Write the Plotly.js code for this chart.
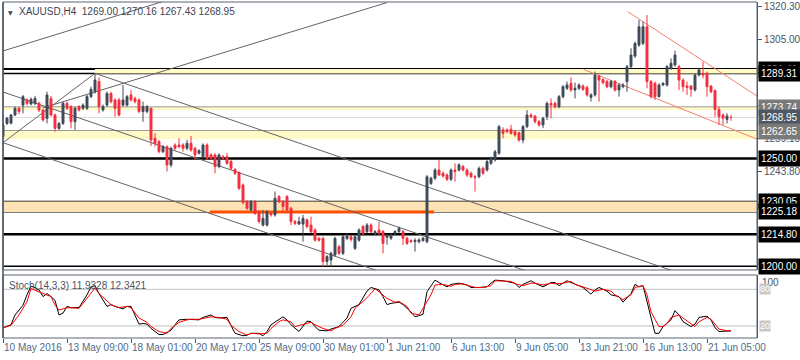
<!DOCTYPE html>
<html>
<head>
<meta charset="utf-8">
<script src="https://cdn.plot.ly/plotly-3.0.1.min.js"></script>
<style>html,body{margin:0;padding:0;background:#fff}#chart{width:800px;height:360px}</style>
</head>
<body>
<div id="chart"></div>
<script>
// ---------------- DATA ----------------
const symbolTitle = "XAUUSD,H4";
const lastQuote = ["1269.00", "1270.16", "1267.43", "1268.95"];
const stochTitle = "Stoch(14,3,3) 11.9328 12.3421";

const openP = [
1260.1,1266.2,1266.3,1270.1,1273.2,1274.7,1277.1,1275.2,1275.3,1275.5,
1272.4,1268.6,1277.8,1270.1,1263.9,1266.2,1275.5,1274.0,1267.0,1274.0,
1273.2,1273.2,1278.6,1280.9,1285.6,1272.4,1274.7,1280.1,1277.1,1277.1,
1274.7,1274.7,1279.4,1277.8,1277.1,1271.7,1271.7,1273.2,1259.3,1257.8,
1253.1,1255.4,1246.9,1256.2,1256.2,1256.2,1254.7,1257.0,1254.7,1252.4,
1250.8,1256.2,1251.6,1251.6,1246.2,1250.8,1250.8,1248.5,1244.9,1243.4,
1237.7,1229.9,1226.1,1229.9,1225.3,1219.1,1219.1,1224.5,1223.8,1232.3,
1229.9,1232.3,1226.9,1220.7,1219.6,1219.6,1221.5,1219.1,1216.8,1212.9,
1212.9,1202.2,1202.9,1205.2,1209.1,1206.0,1212.9,1213.7,1208.3,1212.1,
1218.4,1216.0,1219.1,1215.0,1216.8,1216.1,1213.4,1213.0,1215.3,1216.1,
1216.1,1213.0,1211.9,1211.4,1211.4,1211.9,1211.4,1238.4,1240.8,1244.6,
1243.1,1242.3,1240.3,1244.6,1244.6,1246.2,1244.6,1243.1,1241.5,1241.5,
1245.4,1244.6,1247.7,1249.3,1252.4,1263.2,1263.2,1263.5,1262.4,1261.9,
1258.5,1264.7,1270.1,1269.6,1267.0,1265.5,1269.3,1275.5,1275.5,1274.0,
1278.6,1282.5,1284.8,1281.7,1282.5,1283.5,1282.9,1278.3,1279.4,1288.2,
1286.6,1285.6,1283.2,1285.6,1281.7,1283.2,1285.6,1292.5,1297.4,1302.5,
1303.3,1311.0,1285.6,1284.8,1278.6,1284.0,1284.0,1291.7,1293.3,1292.5,
1286.3,1283.5,1283.5,1281.7,1288.6,1289.4,1289.4,1283.5,1281.4,1272.7,
1270.1,1268.1,1269.00];
const highP = [
1266.5,1269.2,1270.6,1274.0,1273.8,1279.4,1277.8,1278.2,1279.0,1276.3,
1273.0,1280.9,1279.0,1270.8,1266.9,1276.3,1276.3,1274.7,1274.0,1274.7,
1275.5,1279.4,1283.2,1289.4,1287.5,1275.0,1281.0,1280.9,1277.8,1278.0,
1284.0,1279.4,1281.7,1278.6,1277.8,1276.3,1274.7,1273.5,1261.6,1258.5,
1256.2,1256.0,1255.4,1257.0,1259.3,1257.0,1258.5,1260.4,1255.4,1254.2,
1257.0,1257.0,1252.4,1252.4,1252.4,1251.6,1252.4,1249.3,1245.4,1244.0,
1238.4,1230.7,1230.7,1230.7,1226.1,1226.1,1226.1,1225.3,1234.6,1233.0,
1230.7,1233.0,1227.6,1221.5,1223.0,1223.8,1222.2,1223.0,1217.6,1213.7,
1213.7,1205.2,1206.8,1213.7,1209.9,1214.4,1215.3,1214.4,1214.4,1217.6,
1219.1,1220.0,1219.9,1216.8,1220.7,1216.8,1215.0,1215.3,1216.8,1218.4,
1216.8,1213.7,1212.5,1213.0,1213.0,1213.7,1242.3,1241.5,1245.4,1249.3,
1243.9,1243.1,1245.4,1247.7,1247.7,1247.0,1245.4,1243.9,1242.3,1246.2,
1246.2,1249.3,1250.8,1253.9,1265.5,1264.4,1263.9,1265.5,1263.2,1262.4,
1265.5,1272.4,1270.9,1270.1,1267.8,1269.3,1276.3,1277.8,1276.3,1279.4,
1284.0,1285.6,1287.6,1285.1,1284.8,1284.3,1283.7,1280.2,1290.2,1288.6,
1287.1,1286.3,1286.3,1286.3,1284.8,1284.8,1293.3,1301.0,1304.1,1314.1,
1313.4,1316.4,1286.3,1285.6,1284.8,1285.3,1293.3,1296.4,1299.9,1293.3,
1287.1,1285.6,1284.0,1289.4,1291.7,1294.8,1290.2,1284.0,1282.0,1274.0,
1270.9,1270.9,1270.16];
const lowP = [
1259.5,1265.5,1265.8,1269.6,1270.5,1270.9,1274.5,1274.6,1274.8,1271.5,
1267.0,1266.2,1269.5,1262.4,1263.2,1265.5,1272.4,1263.9,1263.2,1271.7,
1272.4,1272.4,1278.0,1280.0,1270.9,1271.7,1274.0,1275.5,1269.3,1269.5,
1274.0,1274.0,1276.3,1275.5,1270.9,1267.0,1270.9,1255.7,1255.4,1252.4,
1252.4,1243.9,1245.9,1253.9,1254.7,1253.1,1253.9,1253.1,1249.3,1251.8,
1250.0,1249.3,1249.3,1243.1,1245.4,1249.3,1247.0,1244.6,1242.3,1235.4,
1228.7,1226.1,1225.3,1223.8,1219.9,1218.4,1218.4,1223.0,1223.0,1229.2,
1225.3,1225.3,1219.1,1219.1,1219.1,1211.4,1217.6,1215.3,1211.4,1211.4,
1199.8,1200.6,1199.8,1204.5,1205.2,1205.2,1212.1,1211.4,1207.5,1211.4,
1214.4,1215.3,1215.3,1214.4,1214.4,1206.0,1210.0,1212.2,1214.5,1215.3,
1209.9,1209.9,1210.9,1206.8,1210.6,1211.4,1210.6,1237.7,1240.0,1241.8,
1241.0,1239.5,1239.5,1239.2,1243.9,1243.9,1241.5,1240.8,1234.6,1240.8,
1242.3,1243.9,1247.0,1248.5,1251.6,1259.3,1261.6,1261.0,1260.0,1257.7,
1257.0,1264.0,1268.6,1266.2,1264.7,1264.0,1267.8,1268.6,1273.2,1273.2,
1277.8,1281.7,1280.9,1277.8,1281.7,1281.3,1278.6,1276.3,1278.6,1276.3,
1284.4,1282.5,1282.5,1280.9,1278.6,1282.5,1280.9,1291.7,1296.6,1301.7,
1302.5,1282.5,1277.8,1277.1,1278.3,1283.5,1283.2,1291.0,1292.5,1281.7,
1280.9,1279.4,1278.6,1281.0,1287.9,1287.1,1278.6,1280.2,1269.3,1265.5,
1265.5,1266.2,1267.43];
const closeP = [
1265.5,1268.6,1270.1,1273.2,1271.7,1278.6,1275.5,1277.4,1277.8,1272.4,
1267.8,1279.4,1270.1,1263.9,1266.2,1275.5,1273.2,1267.0,1273.2,1272.4,
1274.7,1278.6,1282.0,1286.3,1274.0,1274.0,1280.1,1276.3,1273.2,1270.1,
1277.1,1278.6,1277.1,1276.3,1271.7,1274.0,1274.0,1258.5,1257.0,1253.1,
1255.4,1246.9,1254.7,1254.7,1255.4,1254.7,1257.0,1253.9,1251.6,1253.6,
1256.2,1250.0,1250.0,1246.2,1251.6,1250.0,1247.7,1245.4,1243.1,1236.1,
1229.5,1226.9,1229.9,1224.5,1220.7,1222.2,1225.3,1223.8,1231.5,1229.9,
1227.6,1226.1,1220.7,1219.9,1220.7,1222.2,1218.4,1216.0,1212.1,1212.1,
1202.2,1204.5,1206.0,1212.9,1206.0,1213.7,1214.0,1212.5,1213.7,1216.8,
1215.3,1219.1,1216.0,1216.0,1215.3,1210.6,1214.5,1214.5,1216.1,1217.6,
1213.0,1210.6,1211.4,1212.0,1212.2,1213.0,1241.5,1240.8,1244.6,1242.3,
1241.8,1240.3,1244.6,1243.9,1247.0,1244.6,1242.3,1241.5,1241.2,1245.4,
1243.1,1248.5,1250.0,1253.1,1264.7,1261.6,1262.4,1261.6,1260.8,1258.5,
1264.7,1270.1,1269.3,1267.0,1265.5,1268.6,1275.5,1274.7,1274.0,1278.6,
1283.2,1284.0,1281.7,1282.5,1284.0,1282.0,1279.4,1279.4,1288.6,1286.3,
1285.1,1283.2,1285.6,1281.7,1284.0,1284.0,1292.5,1297.9,1303.3,1311.0,
1311.0,1285.6,1278.6,1278.6,1284.0,1284.8,1292.5,1294.1,1297.9,1286.3,
1283.2,1282.9,1282.0,1288.6,1291.0,1288.6,1283.2,1280.9,1272.7,1269.3,
1268.6,1269.6,1268.95];

// Stochastic (14,3,3): main (%K, black) and signal (%D, red), read at bar positions
const kBar = [0,2,3,5,6,7,8,9,10,11,12,13,14,15,16,17,19,20,21,22,23,24,26,27,28,30,31,32,33,34,35,36,37,39,40,42,43,44,46,47,49,50,52,53,54,56,57,58,60,61,62,64,65,66,67,69,70,71,72,74,75,76,77,78,79,81,82,84,86,87,89,90,91,92,94,95,96,97,99,100,102,103,104,105,106,108,109,111,112,114,116,117,119,121,122,123,125,127,128,129,130,132,133,135,137,138,139,141,142,144,145,147,148,149,151,152,154,155,157,158,159,160,161,162,163,164,165,167,168,169,170,172,173,174,176,177,178,179,181,182];
const kVal = [17,22,38,54,71,85,83,79,68,73,68,62,38,41,52,50,50,60,71,84,86,73,52,55,52,48,52,52,38,23,24,23,16,6,6,13,22,30,31,31,30,34,38,34,33,34,22,8,4,5,8,8,4,11,22,31,35,30,22,11,19,28,27,19,13,12,15,19,33,49,55,65,77,83,79,68,55,57,59,55,43,35,37,39,76,95,91,84,88,90,87,83,83,84,90,95,94,92,90,83,88,94,90,84,91,91,86,94,91,86,83,72,79,83,77,71,68,59,73,88,84,86,60,30,8,8,19,30,45,38,27,19,23,34,36,30,17,11,11,11.93];
const dBar = [0,2,4,6,7,9,10,12,13,14,16,17,19,20,22,23,24,26,27,29,31,32,34,36,37,39,41,42,44,46,47,49,51,52,54,56,57,59,61,62,64,66,67,69,70,72,73,75,77,78,80,82,83,85,87,88,90,92,93,94,96,98,99,101,102,104,105,107,108,110,112,113,115,117,118,120,122,123,125,127,128,130,132,133,135,137,138,140,142,143,145,147,148,150,152,153,155,157,158,160,161,162,164,165,166,167,169,170,172,173,174,176,177,178,179,181,182];
const dVal = [17,21,38,60,81,76,73,68,54,46,50,50,49,57,73,82,73,60,55,50,52,50,33,26,19,11,8,16,26,30,31,31,33,35,34,31,21,11,5,8,7,8,16,27,30,27,19,22,26,22,16,12,16,21,35,49,60,73,81,76,65,59,60,52,41,38,49,71,87,88,85,88,89,85,83,83,86,94,94,93,89,86,90,90,87,90,89,90,93,88,84,79,77,80,77,71,63,71,83,86,71,43,19,19,24,34,38,33,24,19,27,34,31,22,15,12,12.34];

// time axis labels (bar index where each label sits)
const timeLabels = ["10 May 2016","13 May 09:00","18 May 01:00","20 May 17:00","25 May 09:00","30 May 01:00","1 Jun 21:00","6 Jun 13:00","9 Jun 05:00","13 Jun 21:00","16 Jun 13:00","21 Jun 05:00"];
const timeLabelBars = [0,16,32,48,64,80,96,112,128,144,160,176];

// price scale ticks (labels hidden under the level boxes are left blank)
const priceTicks = [1197.90,1213.20,1228.50,1243.80,1259.10,1274.40,1289.70,1305.00,1320.30];
const priceTickText = ["", "1213.20", "", "1243.80", "1259.10", "", "", "1305.00", "1320.30"];

// horizontal levels drawn on the chart
const blackLevels = [1291.41, 1289.31, 1250.00, 1230.05, 1225.18, 1214.80, 1200.00];
const grayLevels = [1273.74, 1262.65];
const bidPrice = 1268.95;
const yellowZones = [[1289.31, 1291.41, 23], [1272.40, 1273.74, 0], [1258.85, 1262.65, 0]]; // [low, high, from bar]
const peachZone = [1225.18, 1230.05];
const orangeSegment = [51.75, 107.75, 1225.18]; // from bar, to bar, price

// trend lines: [bar0, price0, bar1, price1]
const grayTrendLines = [
  [0, 1299.77, 45, 1325.6],
  [10, 1273.4, 96, 1322.2],
  [0, 1257.27, 23, 1289.43],
  [0, 1280.77, 135, 1195.2],
  [0, 1257.27, 100, 1193.9],
  [23, 1289.43, 175, 1193.1]
];
const redTrendLines = [
  [156.2, 1317.98, 188.5, 1278.9],
  [145.1, 1291.29, 188.5, 1258.9]
];

// labels on the price scale
const priceBoxes = [
  [1291.41, "#000000"], [1289.31, "#000000"],
  [1273.74, "#7a7a7a"], [1268.95, "#4d5866"], [1262.65, "#7a7a7a"],
  [1250.00, "#000000"], [1230.05, "#000000"], [1225.18, "#000000"],
  [1214.80, "#000000"], [1200.00, "#000000"]
];

// ---------------- CHART ----------------
const FONT = "Liberation Sans, Arial, sans-serif";
const AXC = "#4a5462";
const bars = openP.map((_, i) => i);
const mainDom = [0.2024, 1];
const stochDom = [0, 0.1875];

const traces = [
  {
    type: "candlestick", x: bars, open: openP, high: highP, low: lowP, close: closeP,
    xaxis: "x", yaxis: "y", whiskerwidth: 0,
    increasing: {line: {color: "#404a58", width: 1}, fillcolor: "#404a58"},
    decreasing: {line: {color: "#f2303e", width: 1}, fillcolor: "#f2303e"},
    hoverinfo: "skip"
  },
  {type: "scatter", mode: "lines", x: kBar, y: kVal, xaxis: "x", yaxis: "y2",
   line: {color: "#000000", width: 1}, hoverinfo: "skip"},
  {type: "scatter", mode: "lines", x: dBar, y: dVal, xaxis: "x", yaxis: "y2",
   line: {color: "#ff0000", width: 1}, hoverinfo: "skip"}
];

const shapes = [];
yellowZones.forEach(z => shapes.push({type: "rect", xref: "x", yref: "y", x0: z[2], x1: 188.5, y0: z[0], y1: z[1],
  fillcolor: "#fffac6", line: {width: 0}, layer: "below"}));
shapes.push({type: "rect", xref: "x", yref: "y", x0: 0, x1: 188.5, y0: peachZone[0], y1: peachZone[1],
  fillcolor: "#fde3b4", line: {width: 0}, layer: "below"});
shapes.push({type: "line", xref: "paper", yref: "y", x0: 0, x1: 1, y0: bidPrice, y1: bidPrice,
  line: {color: "#dcdcdc", width: 1}, layer: "below"});
grayLevels.forEach(p => shapes.push({type: "line", xref: "paper", yref: "y", x0: 0, x1: 1, y0: p, y1: p,
  line: {color: "#7a7a7a", width: 1.5}, layer: "below"}));
const blackWidths = [2, 1.5, 2.5, 1.3, 1.3, 2.5, 1.5];
blackLevels.forEach((p, i) => shapes.push({type: "line", xref: "paper", yref: "y", x0: 0, x1: 1, y0: p, y1: p,
  line: {color: "#000000", width: blackWidths[i]}, layer: "below"}));
shapes.push({type: "line", xref: "x", yref: "y", x0: orangeSegment[0], x1: orangeSegment[1],
  y0: orangeSegment[2], y1: orangeSegment[2], line: {color: "#ff5000", width: 3}, layer: "below"});
grayTrendLines.forEach(l => shapes.push({type: "line", xref: "x", yref: "y", x0: l[0], y0: l[1], x1: l[2], y1: l[3],
  line: {color: "#646464", width: 1}, layer: "below"}));
redTrendLines.forEach(l => shapes.push({type: "line", xref: "x", yref: "y", x0: l[0], y0: l[1], x1: l[2], y1: l[3],
  line: {color: "#f3806c", width: 1}, layer: "below"}));
[80, 20].forEach(v => shapes.push({type: "line", xref: "paper", yref: "y2", x0: 0, x1: 1, y0: v, y1: v,
  line: {color: "#c0c0c0", width: 1}, layer: "below"}));
shapes.push({type: "rect", xref: "paper", yref: "paper", x0: 0, x1: 1, y0: mainDom[0], y1: mainDom[1],
  line: {color: "#5a6470", width: 1}, layer: "above"});
shapes.push({type: "rect", xref: "paper", yref: "paper", x0: 0, x1: 1, y0: stochDom[0], y1: stochDom[1],
  line: {color: "#5a6470", width: 1}, layer: "above"});
shapes.push({type: "line", xref: "paper", yref: "paper", x0: 0, x1: 0, y0: 0, y1: 1,
  line: {color: "#4a5462", width: 1.5}, layer: "above"});

const annotations = [];
annotations.push({xref: "paper", yref: "paper", x: 0, y: 1, xanchor: "left", yanchor: "top", xshift: 3, yshift: -5,
  text: "▼", showarrow: false, font: {family: "DejaVu Sans", size: 6, color: "#3c4552"}});
annotations.push({xref: "paper", yref: "paper", x: 0, y: 1, xanchor: "left", yanchor: "top", xshift: 14, yshift: -2,
  text: symbolTitle + "  " + lastQuote.join(" "), showarrow: false, font: {family: FONT, size: 10, color: "#3c4552"}});
annotations.push({xref: "paper", yref: "paper", x: 0, y: stochDom[1], xanchor: "left", yanchor: "top", xshift: 4, yshift: -3,
  text: stochTitle, showarrow: false, font: {family: FONT, size: 10, color: "#4a5462"}});
priceBoxes.forEach(b => annotations.push({xref: "paper", yref: "y", x: 1, y: b[0], xanchor: "left", yanchor: "middle",
  xshift: 1, text: b[0].toFixed(2), showarrow: false, bgcolor: b[1], borderpad: 2,
  font: {family: FONT, size: 10, color: "#ffffff"}}));
annotations.push({xref: "paper", yref: "y2", x: 1, y: 100, xanchor: "left", yanchor: "top", xshift: 3, yshift: 2,
  text: "100", showarrow: false, font: {family: FONT, size: 10, color: AXC}});
[80, 20].forEach(v => annotations.push({xref: "paper", yref: "y2", x: 1, y: v, xanchor: "left", yanchor: "middle",
  xshift: 2, text: String(v), showarrow: false, bgcolor: "#c8c8c8", borderpad: 0,
  font: {family: FONT, size: 9, color: "#ffffff"}}));
annotations.push({xref: "paper", yref: "y2", x: 1, y: 0, xanchor: "left", yanchor: "middle", xshift: 3, yshift: 5,
  text: "0", showarrow: false, font: {family: FONT, size: 10, color: AXC}});
timeLabels.forEach((t, i) => annotations.push({xref: "x", yref: "paper", x: timeLabelBars[i], y: 0,
  xanchor: "left", yanchor: "top", xshift: -1, yshift: -2, text: t, showarrow: false,
  font: {family: FONT, size: 10, color: "#4d6b8c"}}));

const layout = {
  width: 800, height: 360,
  margin: {l: 3, r: 43, t: 2, b: 22, pad: 0},
  paper_bgcolor: "#ffffff", plot_bgcolor: "#ffffff",
  showlegend: false,
  xaxis: {range: [0, 188.5], anchor: "y2", showgrid: false, zeroline: false, showline: false,
    tickmode: "array", tickvals: timeLabelBars, ticks: "outside", ticklen: 4, tickwidth: 1, tickcolor: AXC,
    showticklabels: false, rangeslider: {visible: false}, fixedrange: true},
  yaxis: {domain: mainDom, range: [1198.28, 1322.47], side: "right", showgrid: false, zeroline: false,
    showline: true, linecolor: AXC, linewidth: 1, ticks: "outside", ticklen: 4, tickcolor: AXC,
    tickmode: "array", tickvals: priceTicks, ticktext: priceTickText,
    tickfont: {family: FONT, size: 10, color: AXC}, fixedrange: true},
  yaxis2: {domain: stochDom, range: [0.33, 103.4], side: "right", showgrid: false, zeroline: false,
    showline: true, linecolor: AXC, linewidth: 1, ticks: "", showticklabels: false, fixedrange: true},
  shapes: shapes,
  annotations: annotations
};

Plotly.newPlot("chart", traces, layout, {displayModeBar: false, staticPlot: true});
</script>
</body>
</html>
